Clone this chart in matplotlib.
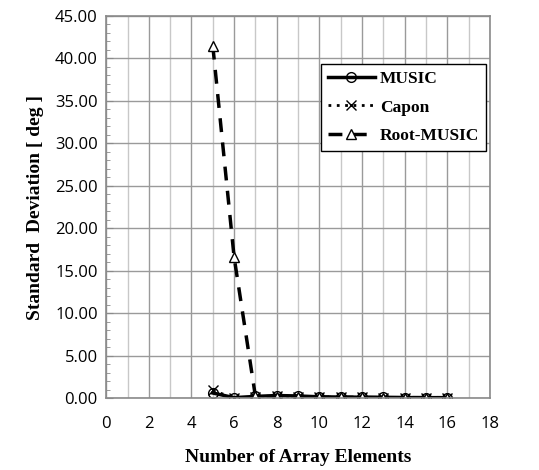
import matplotlib.pyplot as plt
import numpy as np

elements = [5, 6, 7, 8, 9, 10, 11, 12, 13, 14, 15, 16]
music = [0.6, 0.05, 0.2, 0.3, 0.25, 0.15, 0.12, 0.1, 0.08, 0.06, 0.05, 0.05]
capon = [0.9, 0.0, 0.15, 0.2, 0.1, 0.12, 0.1, 0.08, 0.06, 0.05, 0.05, 0.04]
root_music = [41.5, 16.6, 0.2, 0.15, 0.1, 0.1, 0.1, 0.08, 0.06, 0.05, 0.05, 0.04]

fig = plt.figure(figsize=(5.39, 4.70), dpi=100)
ax = fig.add_axes([0.197, 0.153, 0.712, 0.813])

serif = 'Liberation Serif'
tickfont = 'Open Sans'

ax.plot(elements, music, color='black', lw=2.5, marker='o', ms=7,
        mfc='none', mec='black', mew=1, label='MUSIC')
ax.plot(elements, capon, color='black', lw=2, ls=(0, (1, 2)), marker='x', ms=7,
        mec='black', mew=1, label='Capon')
ax.plot(elements, root_music, color='black', lw=2.5, ls=(0, (4, 3)), marker='^', ms=7,
        mfc='white', mec='black', mew=1, label='Root-MUSIC')

ax.set_xlim(0, 18)
ax.set_ylim(0, 45)
ax.set_xticks(np.arange(0, 19, 2))
ax.set_xticks(np.arange(0, 19, 1), minor=True)
ax.set_yticks(np.arange(0, 46, 5))
ax.set_yticks(np.arange(0, 46, 1), minor=True)
ax.set_yticklabels([f'{v:.2f}' for v in np.arange(0, 46, 5)])

ax.grid(which='major', color='#9a9a9a', lw=1)
ax.grid(which='minor', axis='x', color='#c8c8c8', lw=1)
ax.set_axisbelow(True)

for s in ax.spines.values():
    s.set_color('#8a8a8a')
    s.set_linewidth(1.2)

ax.tick_params(axis='x', which='both', length=0, pad=13, labelsize=12)
ax.tick_params(axis='y', which='major', direction='in', length=5, color='#8a8a8a',
               labelsize=12, pad=6)
ax.tick_params(axis='y', which='minor', direction='in', length=3, color='#8a8a8a')
for lab in ax.get_xticklabels() + ax.get_yticklabels():
    lab.set_fontfamily(tickfont)

ax.set_xlabel('Number of Array Elements', fontsize=14, fontweight='bold',
              family=serif, labelpad=12)
ax.set_ylabel('Standard  Deviation [ deg ]', fontsize=14, fontweight='bold',
              family=serif, labelpad=8)

leg = ax.legend(loc='upper left', bbox_to_anchor=(0.56, 0.874), frameon=True,
                fancybox=False, edgecolor='black', framealpha=1,
                prop={'family': serif, 'weight': 'bold', 'size': 12.5},
                handlelength=2.7, handletextpad=0.3, labelspacing=0.7,
                borderpad=0.4, borderaxespad=0)
leg.get_frame().set_linewidth(1)

fig.savefig('out.png', dpi=100)
